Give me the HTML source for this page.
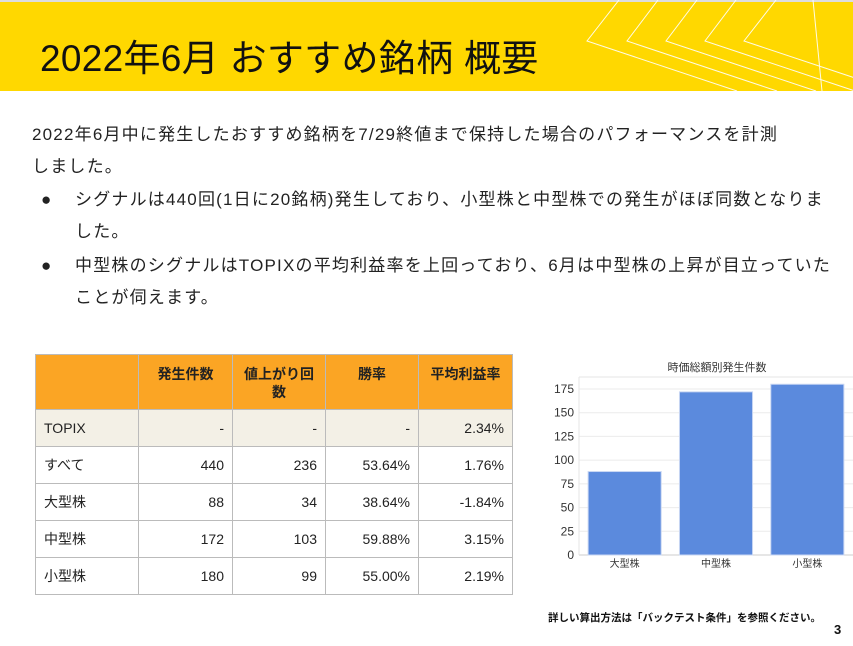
<!DOCTYPE html>
<html><head><meta charset="utf-8"><style>
body{margin:0;width:853px;height:646px;overflow:hidden;background:#fff;font-family:"Liberation Sans","Noto Sans CJK JP",sans-serif;position:relative}
.abs{position:absolute}
#hdr{left:0;top:0;width:853px;height:91px;background:#FFD800;border-top:2px solid #ddd;box-sizing:border-box}
#title{left:40px;top:36px;font-size:37px;color:#111;white-space:nowrap;line-height:46px;letter-spacing:0.3px}
.p{font-size:17px;letter-spacing:1.2px;color:#222;line-height:32px;white-space:nowrap}
.b{position:absolute;left:0;top:0}
table{border-collapse:collapse;position:absolute;left:35px;top:354px;font-size:14px;color:#222}
td,th{border:1px solid #bbb;padding:0 8px;box-sizing:border-box}
th{background:#FBA524;font-weight:bold;text-align:center;height:55px;vertical-align:top;padding-top:10px;line-height:18px}
td{text-align:right;height:37px}
td:first-child{text-align:left}
.tp td{background:#F3F0E6}
</style></head><body>
<div id="hdr" class="abs">
<svg width="853" height="91" class="abs" style="left:0;top:-2px">
<g stroke="#fff" stroke-width="1" fill="none" opacity="0.9">
<polyline points="619,0 587,41 737,91"/><polyline points="658,0 627,41 777,91"/><polyline points="697,0 666,41 816,91"/><polyline points="736,0 705,41 855,91"/><polyline points="776,0 744,41 894,91"/>
<line x1="813" y1="0" x2="822" y2="91"/>
</g></svg>
</div>
<div id="title" class="abs">2022年6月 おすすめ銘柄 概要</div>
<div class="abs p" style="left:32px;top:119px">2022年6月中に発生したおすすめ銘柄を7/29終値まで保持した場合のパフォーマンスを計測<br>しました。</div>
<div class="abs p" style="left:75px;top:184px"><span class="b" style="left:-34px">●</span>シグナルは440回(1日に20銘柄)発生しており、小型株と中型株での発生がほぼ同数となりま<br>した。</div>
<div class="abs p" style="left:75px;top:250px"><span class="b" style="left:-34px">●</span>中型株のシグナルはTOPIXの平均利益率を上回っており、6月は中型株の上昇が目立っていた<br>ことが伺えます。</div>
<table>
<tr><th style="width:103px"></th><th style="width:94px">発生件数</th><th style="width:93px">値上がり回数</th><th style="width:93px">勝率</th><th style="width:94px">平均利益率</th></tr>
<tr class="tp"><td>TOPIX</td><td>-</td><td>-</td><td>-</td><td>2.34%</td></tr>
<tr><td>すべて</td><td>440</td><td>236</td><td>53.64%</td><td>1.76%</td></tr>
<tr><td>大型株</td><td>88</td><td>34</td><td>38.64%</td><td>-1.84%</td></tr>
<tr><td>中型株</td><td>172</td><td>103</td><td>59.88%</td><td>3.15%</td></tr>
<tr><td>小型株</td><td>180</td><td>99</td><td>55.00%</td><td>2.19%</td></tr>
</table>
<svg id="chart" class="abs" style="left:0;top:0" width="853" height="646"></svg>
<div class="abs" style="left:548px;top:610px;font-size:10.5px;font-weight:bold;color:#111;white-space:nowrap">詳しい算出方法は「バックテスト条件」を参照ください。</div>
<div class="abs" style="left:834px;top:622px;font-size:13px;font-weight:bold;color:#111">3</div>
<script>
const categories=["大型株","中型株","小型株"];
const counts=[88,172,180];
const ticks=[0,25,50,75,100,125,150,175];
const NS="http://www.w3.org/2000/svg";
const svg=document.getElementById('chart');
const x0=579,x1=853,y0=555,yTop=377,scale=166/175;
const y=v=>y0-v*scale;
const band=(x1-x0)/categories.length;
function mk(t,a){const e=document.createElementNS(NS,t);for(const k in a)e.setAttribute(k,a[k]);svg.appendChild(e);return e;}
const ttl=mk('text',{x:717,y:371,'font-size':11,'text-anchor':'middle',fill:'#333'});
ttl.textContent='時価総額別発生件数';


mk('line',{x1:x0,x2:x1,y1:yTop,y2:yTop,stroke:'#e6e6e6'});
ticks.forEach(t=>{
  const g=mk('line',{x1:x0,x2:x1,y1:y(t),y2:y(t),stroke:t===0?'#ccc':'#ebebeb'});
  
  
  const l=mk('text',{x:x0-5,y:y(t)+4,'font-size':12,'text-anchor':'end',fill:'#333'});
  l.textContent=t;
  
  
});
mk('line',{x1:x0,x2:x0,y1:yTop,y2:y0,stroke:'#e6e6e6'});
categories.forEach((c,i)=>{
  const bw=band*0.8,bx=x0+i*band+band*0.1;
  const r=mk('rect',{x:bx,y:y(counts[i]),width:bw,height:counts[i]*scale,fill:'#5B8ADD',stroke:'#c9d7f3','stroke-width':1});
  
  
  const l=mk('text',{x:bx+bw/2,y:y0+12,'font-size':10,'text-anchor':'middle',fill:'#333'});
  l.textContent=c;
  
  
});
</script>
</body></html>
